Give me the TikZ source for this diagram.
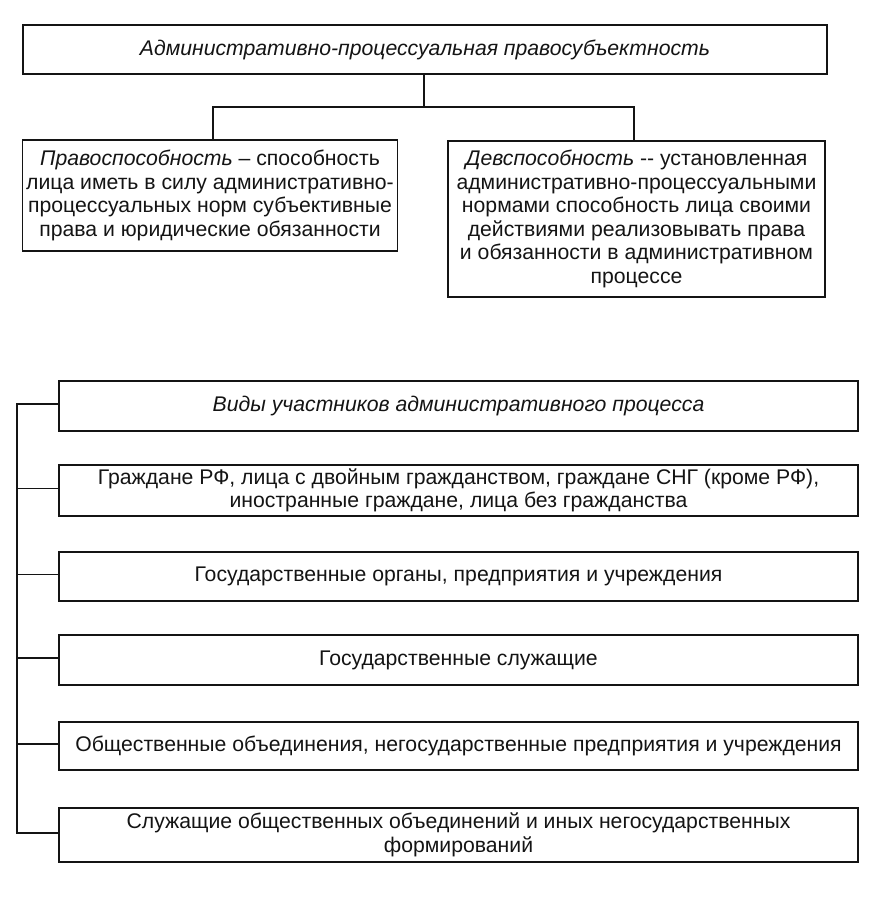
\documentclass[tikz,border=0pt]{standalone}
\usepackage{fontspec}
\setmainfont{Liberation Sans}
\usetikzlibrary{calc}
\definecolor{ink}{HTML}{141414}
\begin{document}
\begin{tikzpicture}[x=1pt,y=-1pt,
  box/.style={draw=ink, line width=1.4pt, rectangle, inner sep=0pt, align=center,
    text=ink, font=\fontsize{21.2}{23.5}\selectfont},
  conn/.style={draw=ink, line width=1.2pt}]
\useasboundingbox[fill=white] (0,0) rectangle (874,920);
\node[box, minimum width=804, minimum height=49] (top) at (425,49.5)
  {\itshape Административно-процессуальная правосубъектность};
\node[box, minimum width=375, minimum height=111] (left) at (210,195.5)
  {\textit{Правоспособность} – способность\\лица иметь в силу административно-\\процессуальных норм субъективные\\права и юридические обязанности};
\node[box, minimum width=377, minimum height=156] (right) at (636.5,219)
  {\textit{Девспособность} -{}- установленная\\административно-процессуальными\\нормами способность лица своими\\действиями реализовывать права\\и обязанности в административном\\процессе};
\node[box, minimum width=799, minimum height=50] (vidy) at (458.5,406)
  {\itshape Виды участников административного процесса};
\node[box, minimum width=799, minimum height=51] (grazh) at (458.5,490.5)
  {Граждане РФ, лица с двойным гражданством, граждане СНГ (кроме РФ),\\иностранные граждане, лица без гражданства};
\node[box, minimum width=799, minimum height=49] (gosorg) at (458.5,576.5)
  {Государственные органы, предприятия и учреждения};
\node[box, minimum width=799, minimum height=50] (gossl) at (458.5,660)
  {Государственные служащие};
\node[box, minimum width=799, minimum height=48] (obsch) at (458.5,746)
  {Общественные объединения, негосударственные предприятия и учреждения};
\node[box, minimum width=799, minimum height=54] (sluzh) at (458.5,835)
  {Служащие общественных объединений и иных негосударственных\\формирований};
% upper connectors
\coordinate (j) at (424,107);
\draw[conn] (top.south -| j) -- (j);
\draw[conn] ([xshift=3pt]left.north) |- (j) -| ([xshift=-2.5pt]right.north);
% left bracket
\coordinate (brk) at (17,0);
\foreach \n in {vidy,grazh,gosorg,gossl,obsch,sluzh}
  \coordinate (t\n) at ([yshift=2pt]\n.west);
\draw[conn] (tvidy) -- (brk |- tvidy) -- (brk |- tsluzh) -- (tsluzh);
\foreach \n in {grazh,gosorg,gossl,obsch}
  \draw[conn] (t\n) -- (brk |- t\n);
\end{tikzpicture}
\end{document}
